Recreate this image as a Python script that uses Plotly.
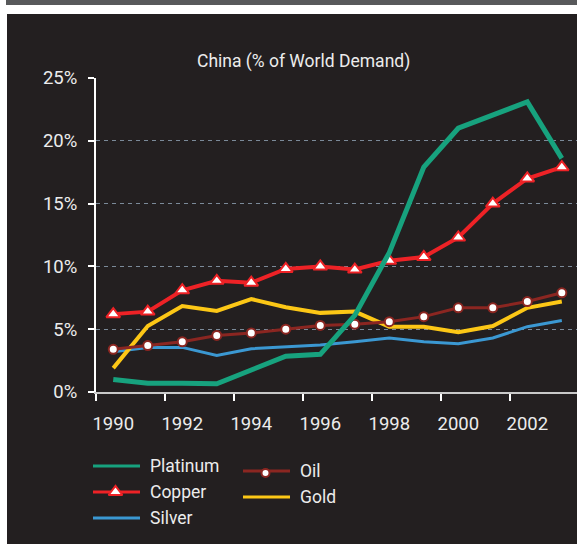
import plotly.graph_objects as go

# China's share of world demand, % by year
years = list(range(1990, 2004))
platinum = [1.0, 0.7, 0.7, 0.65, 1.75, 2.85, 3.0, 6.1, 11.1, 17.9, 21.0, 22.0, 23.1, 18.6]
copper = [6.2, 6.4, 8.1, 8.85, 8.7, 9.8, 10.0, 9.75, 10.45, 10.75, 12.3, 15.0, 17.0, 17.9]
silver = [3.2, 3.55, 3.55, 2.9, 3.45, 3.6, 3.75, 4.0, 4.3, 4.0, 3.85, 4.3, 5.2, 5.7]
oil = [3.4, 3.7, 4.0, 4.5, 4.7, 5.0, 5.3, 5.4, 5.6, 6.0, 6.7, 6.7, 7.2, 7.9]
gold = [1.9, 5.25, 6.85, 6.45, 7.4, 6.75, 6.3, 6.4, 5.2, 5.2, 4.75, 5.25, 6.7, 7.2]

year_ticks = [1990, 1992, 1994, 1996, 1998, 2000, 2002]
year_labels = [str(y) for y in year_ticks]
pct_ticks = [0, 5, 10, 15, 20, 25]
pct_labels = [f"{v}%" for v in pct_ticks]
title_text = "China (% of World Demand)"

W, H = 577, 544
BG = "#231f20"
TXT = "#ececec"
FONT = "Roboto, Liberation Sans, Arial, sans-serif"

C_PLAT = "#17a27e"
C_COPPER = "#ee2226"
C_SILVER = "#3b98d2"
C_OIL = "#8b2621"
C_GOLD = "#fcc716"


def px(x):
    return x / W


def py(y):
    return 1 - y / H


fig = go.Figure()

# series, bottom to top
fig.add_trace(go.Scatter(x=years, y=silver, mode="lines", name="Silver",
                         line=dict(color=C_SILVER, width=3)))
fig.add_trace(go.Scatter(x=years, y=gold, mode="lines", name="Gold",
                         line=dict(color=C_GOLD, width=4)))
fig.add_trace(go.Scatter(x=years, y=oil, mode="lines+markers", name="Oil",
                         line=dict(color=C_OIL, width=3),
                         marker=dict(symbol="circle", size=9, color="white",
                                     line=dict(color=C_OIL, width=2))))
fig.add_trace(go.Scatter(x=years, y=copper, mode="lines+markers", name="Copper",
                         line=dict(color=C_COPPER, width=4),
                         marker=dict(symbol="triangle-up", size=12, color="white",
                                     line=dict(color=C_COPPER, width=2))))
fig.add_trace(go.Scatter(x=years, y=platinum, mode="lines", name="Platinum",
                         line=dict(color=C_PLAT, width=5)))

# legend keys, drawn on a pixel-space overlay axis
legend_items = [
    # name, colour, x0, x1, y, marker symbol
    ("Platinum", C_PLAT, 93, 140, 466, None),
    ("Copper", C_COPPER, 93, 140, 492, "triangle-up"),
    ("Silver", C_SILVER, 93, 140, 518, None),
    ("Oil", C_OIL, 243, 290, 471, "circle"),
    ("Gold", C_GOLD, 243, 290, 497, None),
]
for name, col, x0, x1, yy, sym in legend_items:
    fig.add_trace(go.Scatter(x=[x0, x1], y=[yy, yy], mode="lines", xaxis="x2", yaxis="y2",
                             line=dict(color=col, width=3), hoverinfo="skip",
                             showlegend=False))
    if sym:
        fig.add_trace(go.Scatter(
            x=[(x0 + x1) / 2 - 1], y=[yy + (2 if sym == "circle" else 0)], mode="markers",
            xaxis="x2", yaxis="y2", hoverinfo="skip", showlegend=False,
            marker=dict(symbol=sym, size=12 if sym == "triangle-up" else 8, color="white",
                        line=dict(color=col, width=2))))
    fig.add_annotation(x=px(x1 + 8), y=py(yy), xref="paper", yref="paper",
                       xanchor="left", yanchor="middle", showarrow=False,
                       text=name, font=dict(family=FONT, size=17.5, color=TXT))

# title
fig.add_annotation(x=px(303), y=py(61), xref="paper", yref="paper",
                   xanchor="center", yanchor="middle", showarrow=False,
                   text=title_text, font=dict(family=FONT, size=17.5, color=TXT))

# page frame: grey strip on top and dark panel
shapes = [
    dict(type="rect", xref="paper", yref="paper", x0=px(6), x1=1, y0=py(5), y1=1,
         fillcolor="#58595b", line=dict(width=0), layer="below"),
    dict(type="rect", xref="paper", yref="paper", x0=px(7), x1=1, y0=0, y1=py(14),
         fillcolor=BG, line=dict(width=0), layer="below"),
]

fig.update_layout(
    width=W, height=H,
    margin=dict(l=0, r=0, t=0, b=0, pad=0, autoexpand=False),
    paper_bgcolor="white",
    plot_bgcolor="rgba(0,0,0,0)",
    showlegend=False,
    shapes=shapes,
    font=dict(family=FONT, color=TXT),
    xaxis=dict(
        domain=[px(96), 1], range=[1989.5, 2003.44],
        tickvals=year_ticks, ticktext=year_labels,
        ticks="", showgrid=False, zeroline=False, automargin=False,
        showline=True, linecolor="#c9c9c9", linewidth=1.5,
        tickfont=dict(family=FONT, size=18.5, color=TXT),
        ticklabelstandoff=14,
        minor=dict(tickvals=[1989.5 + 2 * i for i in range(7)], ticks="outside",
                   ticklen=7, tickwidth=2, tickcolor="white", showgrid=False),
        fixedrange=True,
    ),
    yaxis=dict(
        domain=[py(392), py(78)], range=[0, 25],
        tickvals=pct_ticks, ticktext=pct_labels,
        ticks="outside", ticklen=6, tickwidth=2, tickcolor="white",
        showline=True, linecolor="white", linewidth=2,
        showgrid=True, gridcolor="#7b8a99", gridwidth=1, griddash="4px,4px",
        zeroline=False, automargin=False,
        tickfont=dict(family=FONT, size=18.5, color=TXT),
        ticklabelstandoff=7,
        fixedrange=True,
    ),
    xaxis2=dict(domain=[0, 1], range=[0, W], visible=False, anchor="y2",
                automargin=False, fixedrange=True),
    yaxis2=dict(domain=[0, 1], range=[H, 0], visible=False, anchor="x2",
                automargin=False, fixedrange=True),
)

fig.write_html("out.html")
